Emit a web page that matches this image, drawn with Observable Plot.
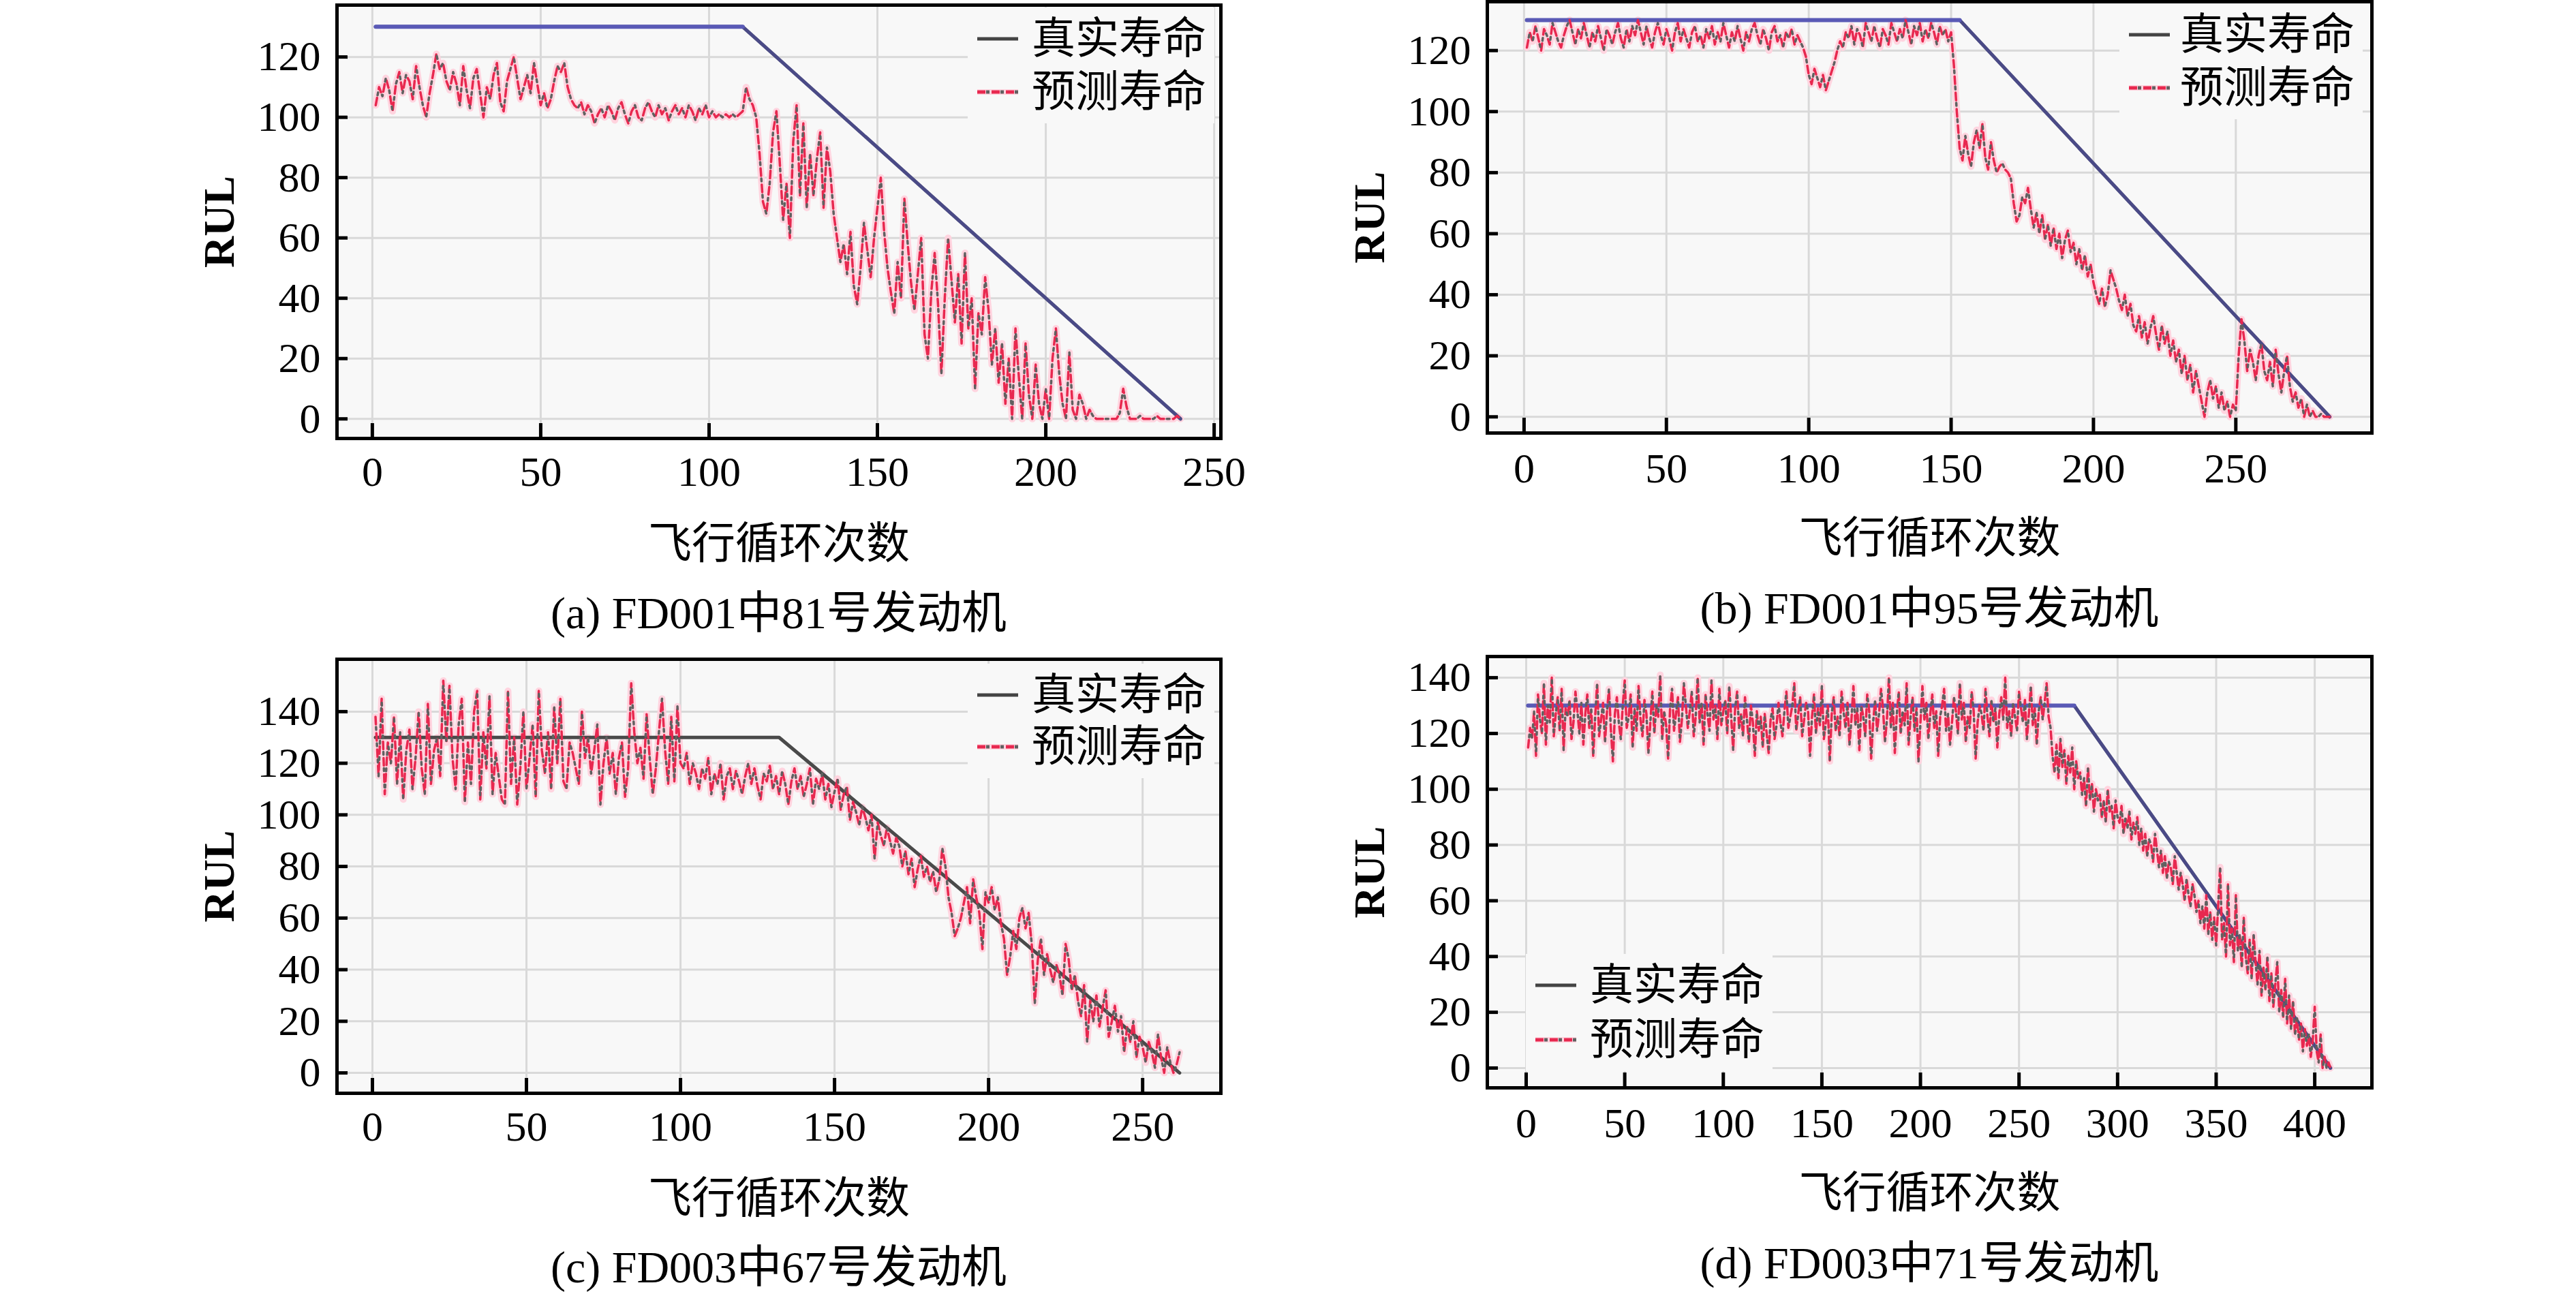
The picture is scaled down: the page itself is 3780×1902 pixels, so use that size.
<!DOCTYPE html>
<html>
<head>
<meta charset="utf-8">
<script src="https://cdn.jsdelivr.net/npm/d3@7"></script>
<script src="https://cdn.jsdelivr.net/npm/@observablehq/plot@0.6"></script>
<style>
  html, body { margin: 0; padding: 0; background: #ffffff; }
  #page { position: relative; width: 3780px; height: 1902px; overflow: hidden; background: #ffffff;
          font-family: "Liberation Serif", "Noto Sans CJK SC", serif; color: #000; }
  .panel { position: absolute; }
  .caption { position: absolute; font-size: 66px; line-height: 1; white-space: nowrap; transform: translate(-50%, -50%); }
  .legend { position: absolute; background: #f8f8f8; padding: 0; }
  .legrow { position: absolute; display: flex; align-items: center; font-size: 64px; line-height: 1; white-space: nowrap; }
</style>
</head>
<body>
<div id="page"></div>
<script>
// ---------- data ----------
const xLabel = "飞行循环次数";
const yLabel = "RUL";
const seriesNames = ["真实寿命", "预测寿命"];
const captions = ["(a) FD001中81号发动机", "(b) FD001中95号发动机", "(c) FD003中67号发动机", "(d) FD003中71号发动机"];

const ticksX_a = [0, 50, 100, 150, 200, 250];
const ticksX_b = [0, 50, 100, 150, 200, 250];
const ticksX_c = [0, 50, 100, 150, 200, 250];
const ticksX_d = [0, 50, 100, 150, 200, 250, 300, 350, 400];
const ticksY_a = [0, 20, 40, 60, 80, 100, 120];
const ticksY_b = [0, 20, 40, 60, 80, 100, 120];
const ticksY_c = [0, 20, 40, 60, 80, 100, 120, 140];
const ticksY_d = [0, 20, 40, 60, 80, 100, 120, 140];

// true RUL breakpoints [cycle, RUL]
const true_a = [[1, 130], [110, 130], [240, 0]];
const true_b = [[1, 130], [153, 130], [283, 0]];
const true_c = [[1, 130], [132, 130], [262, 0]];
const true_d = [[1, 130], [278, 130], [408, 0]];

// predicted RUL, one value per cycle starting at cycle 1
const pred_a = [
104,110,107,113,109,102,111,115,108,114,
112,106,117,110,104,100,108,114,121,116,
118,112,109,115,111,104,117,109,103,113,
116,108,100,110,106,114,118,105,102,112,
116,120,113,106,110,114,108,118,111,104,
108,103,106,112,117,115,118,110,106,104,
103,105,101,104,102,98,101,103,100,104,
102,99,103,105,101,98,102,104,100,99,
103,105,102,100,104,101,103,99,102,104,
101,103,100,104,102,99,103,101,104,100,
102,100,101,100,101,100,101,100,101,102,
110,106,104,100,88,72,68,78,95,102,
85,66,78,60,92,104,74,98,70,88,
74,86,95,70,90,82,68,60,52,58,
48,62,44,38,50,65,56,47,60,70,
80,62,50,42,35,52,40,73,58,45,
36,48,60,28,20,42,55,38,15,40,
60,46,32,48,25,55,30,40,10,35,
28,47,36,18,30,12,25,5,20,0,
30,14,0,25,8,0,18,5,0,10,
0,20,30,15,5,0,22,3,0,8,
5,0,3,1,0,0,0,0,0,0,
0,2,10,4,0,0,0,1,0,0,
0,0,1,0,0,0,0,0,1,0
];
const pred_b = [
121,126,123,128,124,120,127,125,122,129,
126,123,121,125,128,130,126,122,127,124,
129,125,121,126,123,128,124,120,127,125,
122,126,129,124,121,127,123,128,125,130,
126,122,128,124,121,126,129,125,122,127,
124,120,126,129,123,127,124,121,126,128,
123,125,121,127,124,128,122,126,123,129,
125,121,126,123,128,124,120,126,123,127,
129,125,122,127,124,120,126,128,123,125,
121,126,124,127,122,125,123,121,118,112,
109,114,111,108,112,107,110,113,116,120,
123,121,126,124,128,122,127,125,121,129,
126,123,128,124,121,127,125,122,129,126,
123,127,124,130,126,122,128,125,129,123,
127,124,129,126,122,128,125,127,123,126,
115,100,88,84,92,86,82,90,94,88,
96,85,81,90,84,80,82,83,81,80,
78,70,64,66,72,70,75,68,62,67,
60,66,58,63,56,62,55,60,52,58,
61,54,57,50,55,48,53,46,50,44,
40,37,42,36,40,48,45,42,38,35,
40,33,37,30,28,33,26,31,24,29,
33,27,22,30,24,28,20,25,18,22,
14,20,12,17,8,15,10,5,0,8,
12,6,10,3,8,2,5,0,4,2,
20,32,25,15,22,18,12,20,24,15,
12,18,10,22,14,8,15,20,10,5,
8,3,6,0,4,0,2,0,0,1,
0,0,0
];
const pred_c = [
138,115,145,108,128,120,138,112,132,106,
125,133,110,122,140,118,108,143,112,125,
130,115,152,128,150,122,110,135,145,105,
128,112,140,148,106,132,118,146,108,124,
115,106,104,148,112,130,104,118,140,110,
122,135,107,148,125,116,132,110,142,120,
145,113,110,128,124,118,112,140,122,130,
116,125,135,104,120,130,116,124,108,122,
128,107,118,151,132,120,126,114,139,122,
108,118,132,145,125,112,138,113,142,120,
118,124,112,120,116,110,118,114,122,108,
116,112,120,106,115,118,110,117,113,108,
115,120,112,118,111,106,116,113,119,110,
115,108,117,112,104,113,118,110,115,107,
112,118,104,114,110,116,106,112,103,109,
114,102,108,111,98,105,101,96,103,99,
94,100,83,97,92,88,95,90,85,91,
88,80,86,77,83,72,79,84,76,80,
74,78,70,75,87,80,68,62,53,56,
60,66,72,58,75,68,62,48,70,66,
72,63,68,58,52,38,45,55,48,60,
64,56,62,50,27,44,52,38,46,40,
35,42,38,30,50,44,32,38,28,22,
34,12,28,20,30,18,25,32,14,20,
26,16,22,8,18,12,20,6,14,10,
4,12,8,2,15,6,0,10,4,0,
3,8
];
const pred_d = [
115,122,118,128,112,134,125,120,138,116,
130,124,140,119,127,133,121,136,114,129,
126,132,118,124,135,128,120,131,116,127,
134,122,129,112,126,138,119,125,131,117,
128,136,121,110,127,133,124,118,130,139,
122,126,134,115,129,121,137,125,119,132,
127,113,124,135,120,130,126,141,118,128,
123,111,129,136,121,127,133,117,125,138,
130,122,128,135,119,126,140,124,131,116,
134,127,121,139,125,130,118,136,123,128,
132,120,137,126,114,129,135,122,127,119,
133,125,117,130,124,112,128,121,126,115,
127,120,113,125,129,118,123,131,124,119,
128,135,122,126,130,138,121,127,133,119,
125,131,128,112,126,134,120,129,123,137,
118,124,130,110,127,133,121,126,119,135,
128,122,131,116,125,137,123,129,114,130,
126,119,134,128,111,124,132,121,127,136,
129,117,125,140,122,131,113,127,135,120,
128,123,138,116,126,133,121,129,110,124,
137,125,131,118,127,134,122,128,112,126,
130,136,121,127,116,124,133,128,120,138,
125,131,117,126,122,135,128,111,124,130,
127,121,136,126,119,132,124,129,115,127,
133,125,140,122,128,119,131,126,121,135,
129,124,132,118,127,137,123,129,116,128,
133,125,131,138,126,122,112,106,116,104,
118,108,114,102,112,106,115,100,110,104,
106,98,104,94,108,96,102,92,100,96,
98,90,96,88,100,92,94,86,96,90,
88,94,84,90,86,92,82,88,84,90,
80,86,78,84,76,82,80,74,84,78,
72,78,70,76,68,74,72,66,76,70,
64,70,66,60,68,62,58,66,62,56,
60,52,58,50,62,48,56,46,54,44,
58,72,46,52,40,66,44,50,38,62,
42,48,36,54,40,34,46,32,48,38,
30,42,26,36,28,40,24,34,22,30,
38,20,28,18,32,16,26,14,24,12,
18,10,16,6,14,8,12,4,10,22,
6,2,12,0,4,0,2,0
];

// ---------- layout (styles only) ----------
const FONT = '"Liberation Serif", "Noto Sans CJK SC", serif';
const panels = [
  { truth: true_a, pred: pred_a, xt: ticksX_a, yt: ticksY_a, xd: [-10.5, 252], yd: [-6.5, 137.2],
    frame: [494, 7, 1791, 643], top: 0, blue: true, tickPad: 25,
    caption: captions[0], capY: 900, legend: { sx: 1434, tx: 1514, y1: 57, y2: 135 } },
  { truth: true_b, pred: pred_b, xt: ticksX_b, yt: ticksY_b, xd: [-12.9, 297.8], yd: [-5.3, 136],
    frame: [2182, 2, 3480, 635], top: 0, blue: true, tickPad: 28,
    caption: captions[1], capY: 893, legend: { sx: 3124, tx: 3199, y1: 51, y2: 129 } },
  { truth: true_c, pred: pred_c, xt: ticksX_c, yt: ticksY_c, xd: [-11.5, 275.4], yd: [-7.9, 160.3],
    frame: [494, 967, 1791, 1604], top: 940, blue: false, tickPad: 25,
    caption: captions[2], capY: 1860, legend: { sx: 1434, tx: 1514, y1: 1020, y2: 1096 } },
  { truth: true_d, pred: pred_d, xt: ticksX_d, yt: ticksY_d, xd: [-19.7, 429], yd: [-7.1, 147.6],
    frame: [2182, 963, 3480, 1596], top: 940, blue: true, tickPad: 28,
    caption: captions[3], capY: 1854, legend: { sx: 2253, tx: 2333, y1: 1446, y2: 1526 } }
];

const page = document.getElementById("page");
const RED = "#e8284f", GRAY = "#606060", HALO = "#ffd4df";

function drawPanel(p) {
  const [fl, ft, fr, fb] = p.frame;
  const FW = fr - fl, FH = fb - ft;
  const ML = 240, MR = 30, MT = ft - p.top, MB = 215;
  const predRows = p.pred.map((v, i) => ({ x: i + 1, y: v }));
  const trueRows = p.truth.map(([x, y]) => ({ x, y }));
  const marks = [
    Plot.frame({ fill: "#f8f8f8" }),
    Plot.gridX(p.xt, { stroke: "#d9d9d9", strokeOpacity: 1, strokeWidth: 3 }),
    Plot.gridY(p.yt, { stroke: "#d9d9d9", strokeOpacity: 1, strokeWidth: 3 }),
    Plot.line(predRows, { x: "x", y: "y", stroke: HALO, strokeWidth: 10, strokeLinejoin: "round" }),
    Plot.line(trueRows, { x: "x", y: "y", stroke: p.blue ? "#3f3f55" : "#4a4a4a", strokeWidth: 5 })
  ];
  if (p.blue) {
    marks.push(Plot.line(trueRows, { x: "x", y: "y", stroke: "#5656b8", strokeOpacity: 0.5, strokeWidth: 5 }));
    marks.push(Plot.line(trueRows.slice(0, 2), { x: "x", y: "y", stroke: "#5a5ab6", strokeWidth: 6 }));
  }
  marks.push(
    Plot.line(predRows, { x: "x", y: "y", stroke: RED, strokeWidth: 3.5, strokeDasharray: "11,13" }),
    Plot.line(predRows, { x: "x", y: "y", stroke: GRAY, strokeWidth: 3.5, strokeDasharray: "4,20", strokeDashoffset: -15 }),
    Plot.ruleX(p.xt, { x: d => d, insetTop: FH - 22, stroke: "#000", strokeWidth: 5 }),
    Plot.ruleY(p.yt, { y: d => d, insetRight: FW - 16, stroke: "#000", strokeWidth: 5 }),
    Plot.axisX({ ticks: p.xt, tickSize: 0, tickPadding: p.tickPad, fontSize: 62, label: null, tickFormat: d => String(d) }),
    Plot.axisY({ ticks: p.yt, tickSize: 0, tickPadding: 24, fontSize: 62, label: null, tickFormat: d => String(d) }),
    Plot.text([xLabel], { text: d => d, frameAnchor: "bottom", dy: 155, fontSize: 64, textAnchor: "middle", lineAnchor: "middle", fill: "#000" }),
    Plot.text([yLabel], { text: d => d, frameAnchor: "left", dx: -172, rotate: -90, fontSize: 64, fontWeight: "bold", textAnchor: "middle", lineAnchor: "middle", fill: "#000" }),
    Plot.frame({ stroke: "#000", strokeWidth: 5 })
  );
  const svg = Plot.plot({
    width: ML + FW + MR, height: MT + FH + MB,
    marginLeft: ML, marginRight: MR, marginTop: MT, marginBottom: MB,
    x: { domain: p.xd }, y: { domain: p.yd },
    style: { fontFamily: FONT, background: "transparent", color: "#000", overflow: "visible" },
    marks
  });
  const wrap = document.createElement("div");
  wrap.className = "panel";
  wrap.style.left = (fl - ML) + "px";
  wrap.style.top = p.top + "px";
  wrap.appendChild(svg);
  page.appendChild(wrap);

  // legend
  const lg = document.createElement("div");
  lg.className = "legend";
  lg.style.left = (p.legend.sx - 14) + "px";
  lg.style.top = (p.legend.y1 - 46) + "px";
  lg.style.width = (p.legend.tx - p.legend.sx + 14 + 4 * 64 + 12) + "px";
  lg.style.height = (p.legend.y2 - p.legend.y1 + 92) + "px";
  page.appendChild(lg);
  const rows = [
    { y: p.legend.y1, name: seriesNames[0],
      sample: '<line x1="0" y1="7" x2="60" y2="7" stroke="#444" stroke-width="5"/>' },
    { y: p.legend.y2, name: seriesNames[1],
      sample: '<line x1="0" y1="7" x2="60" y2="7" stroke="' + HALO + '" stroke-width="8"/>' +
              '<line x1="0" y1="7" x2="60" y2="7" stroke="' + RED + '" stroke-width="5" stroke-dasharray="12,9"/>' +
              '<line x1="0" y1="7" x2="60" y2="7" stroke="' + GRAY + '" stroke-width="5" stroke-dasharray="5,16" stroke-dashoffset="-13"/>' }
  ];
  rows.forEach(r => {
    const d = document.createElement("div");
    d.className = "legrow";
    d.style.left = p.legend.sx + "px";
    d.style.top = (r.y - 32) + "px";
    d.style.height = "64px";
    d.innerHTML = '<svg width="60" height="14" style="margin-right:' + (p.legend.tx - p.legend.sx - 60) + 'px">' + r.sample + '</svg><span>' + r.name + '</span>';
    page.appendChild(d);
  });

  // caption
  const c = document.createElement("div");
  c.className = "caption";
  c.style.left = ((fl + fr) / 2) + "px";
  c.style.top = p.capY + "px";
  c.textContent = p.caption;
  page.appendChild(c);
}

panels.forEach(drawPanel);
</script>
</body>
</html>
